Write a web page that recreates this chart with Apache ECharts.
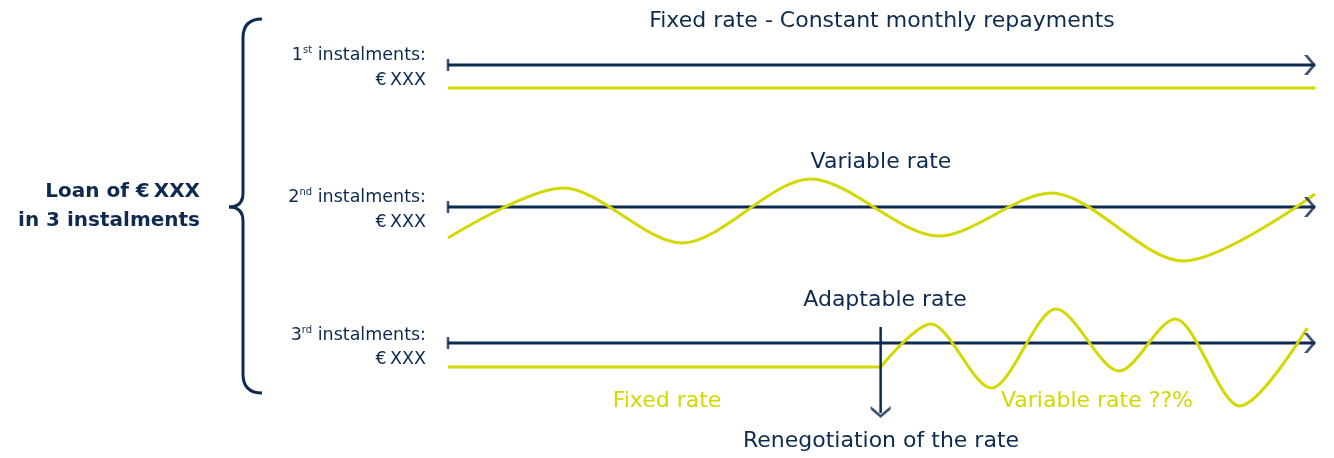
<!DOCTYPE html>
<html>
<head>
<meta charset="utf-8">
<script src="https://cdn.jsdelivr.net/npm/echarts@6/dist/echarts.min.js"></script>
<style>
  html, body { margin: 0; padding: 0; background: #fff; }
  #loanChart { width: 1334px; height: 458px; }
</style>
</head>
<body>
<div id="loanChart"></div>
<script>
// time runs 0..100 along every instalment, rate is the deviation from the axis
var timeFull = [0, 100];
var rateFixed1 = [-23, -23];

var timeVar2 = [0, 13.3, 27.0, 41.8, 56.6, 69.6, 84.8, 100];
var rateVar2 = [-31, 19, -36, 28, -29, 14, -54, 13];

var timeFixed3 = [0, 49.9];
var rateFixed3 = [-24, -24];
var timeVar3 = [49.9, 55.7, 62.7, 70.1, 77.4, 83.9, 91.3, 99.1];
var rateVar3 = [-24, 19, -45, 34, -28, 24, -63, 15];

var renegTime = [49.9, 49.9];
var renegRate = [16, -70];

var navy = '#0d2b50';
var lime = '#d2d800';
var font = '"DejaVu Sans", sans-serif';

function pairs(xs, ys) {
    return xs.map(function (x, i) { return [x, ys[i]]; });
}

var chartDom = document.getElementById('loanChart');
var myChart = echarts.init(chartDom);
var option;

// one grid per instalment, 1 rate unit = 1 px vertically
var grids = [
    { left: 448, right: 19, top: 25, height: 80 },
    { left: 448, right: 19, top: 167, height: 110 },
    { left: 448, right: 19, top: 303, height: 120 }
];
var yRanges = [[-40, 40], [-70, 40], [-80, 40]];

var xAxes = grids.map(function (g, i) {
    return { type: 'value', gridIndex: i, min: 0, max: 100, show: false };
});
var yAxes = grids.map(function (g, i) {
    return { type: 'value', gridIndex: i, min: yRanges[i][0], max: yRanges[i][1], show: false };
});

var chevronRight = 'path://M0,0 L3.6,0 L12,10 L3.6,20 L0,20 L8.4,10 Z';
var chevronDown = 'path://M0,0 L10,8.4 L20,0 L20,3.6 L10,12 L0,3.6 Z';

var series = [];
grids.forEach(function (g, i) {
    // navy time axis
    series.push({
        type: 'line', xAxisIndex: i, yAxisIndex: i,
        data: pairs(timeFull, [0, 0]),
        symbol: 'none', silent: true, z: 3,
        lineStyle: { color: navy, width: 3 }
    });
    series.push({
        type: 'scatter', xAxisIndex: i, yAxisIndex: i, silent: true, z: 4,
        data: [
            { value: [0, 0], symbol: 'rect', symbolSize: [2.6, 12] },
            { value: [100, 0], symbol: chevronRight, symbolSize: [12, 20], symbolOffset: [-5, 0] }
        ],
        itemStyle: { color: navy }
    });
});

var limeLine = { color: lime, width: 3 };

series.push({
    type: 'line', xAxisIndex: 0, yAxisIndex: 0, silent: true, symbol: 'none',
    data: pairs(timeFull, rateFixed1), lineStyle: limeLine
});
series.push({
    type: 'line', xAxisIndex: 1, yAxisIndex: 1, silent: true, symbol: 'none',
    smooth: 0.3, smoothMonotone: 'x',
    data: pairs(timeVar2, rateVar2), lineStyle: limeLine
});
series.push({
    type: 'line', xAxisIndex: 2, yAxisIndex: 2, silent: true, symbol: 'none',
    data: pairs(timeFixed3, rateFixed3), lineStyle: limeLine
});
series.push({
    type: 'line', xAxisIndex: 2, yAxisIndex: 2, silent: true, symbol: 'none',
    smooth: 0.3, smoothMonotone: 'x',
    data: pairs(timeVar3, rateVar3), lineStyle: limeLine
});
// renegotiation arrow
series.push({
    type: 'line', xAxisIndex: 2, yAxisIndex: 2, silent: true, symbol: 'none', z: 5,
    clip: false,
    data: pairs(renegTime, renegRate), lineStyle: { color: navy, width: 2.5 }
});
series.push({
    type: 'scatter', xAxisIndex: 2, yAxisIndex: 2, silent: true, z: 5, clip: false,
    data: [{ value: [renegTime[1], renegRate[1]], symbol: chevronDown, symbolSize: [20, 12], symbolOffset: [0, -1] }],
    itemStyle: { color: navy }
});

function txt(x, y, text, opts) {
    opts = opts || {};
    var style = {
        text: text,
        textAlign: opts.align || 'center',
        textVerticalAlign: 'middle',
        font: (opts.weight || 'normal') + ' ' + (opts.size || 22) + 'px ' + font,
        fill: opts.color || navy
    };
    if (opts.rich) style.rich = opts.rich;
    return { type: 'text', x: x, y: y, silent: true, style: style };
}

var supRich = {
    n: { font: '17.5px ' + font, fill: navy },
    s: { font: '10px ' + font, fill: navy, verticalAlign: 'top', padding: [0, 0, 9, 0] }
};

var braceStyle = { stroke: navy, lineWidth: 3, fill: 'none' };
function curve(x1, y1, cx, cy, x2, y2) {
    return { type: 'bezierCurve', silent: true, shape: { x1: x1, y1: y1, cpx1: cx, cpy1: cy, x2: x2, y2: y2 }, style: braceStyle };
}
function seg(x1, y1, x2, y2) {
    return { type: 'line', silent: true, shape: { x1: x1, y1: y1, x2: x2, y2: y2 }, style: braceStyle };
}

option = {
    animation: false,
    grid: grids,
    xAxis: xAxes,
    yAxis: yAxes,
    series: series,
    graphic: [
        // curly brace
        curve(262, 19, 243, 19, 243, 38),
        seg(243, 38, 243, 193),
        curve(243, 193, 243, 207, 229, 207),
        curve(229, 207, 243, 207, 243, 221),
        seg(243, 221, 243, 374),
        curve(243, 374, 243, 393, 262, 393),
        txt(200, 192, 'Loan of €\u2009XXX', { weight: 'bold', size: 20, align: 'right' }),
        txt(200, 221, 'in 3 instalments', { weight: 'bold', size: 20, align: 'right' }),
        txt(426, 55, '{n|1}{s|st}{n| instalments:}', { align: 'right', size: 17.5, rich: supRich }),
        txt(426, 80, '€\u2009XXX', { align: 'right', size: 17.5 }),
        txt(426, 197, '{n|2}{s|nd}{n| instalments:}', { align: 'right', size: 17.5, rich: supRich }),
        txt(426, 222, '€\u2009XXX', { align: 'right', size: 17.5 }),
        txt(426, 335, '{n|3}{s|rd}{n| instalments:}', { align: 'right', size: 17.5, rich: supRich }),
        txt(426, 359, '€\u2009XXX', { align: 'right', size: 17.5 }),
        txt(882, 21, 'Fixed rate - Constant monthly repayments'),
        txt(881, 162, 'Variable rate'),
        txt(885, 300, 'Adaptable rate'),
        txt(881, 441, 'Renegotiation of the rate'),
        txt(667, 401, 'Fixed rate', { color: lime }),
        txt(1097, 401, 'Variable rate ??%', { color: lime })
    ]
};

option && myChart.setOption(option);
</script>
</body>
</html>
